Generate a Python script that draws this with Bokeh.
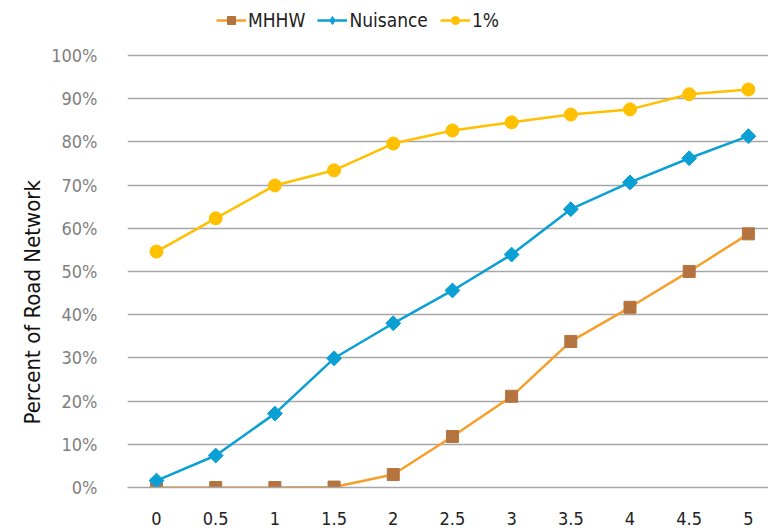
from math import pi
from bokeh.plotting import figure
from bokeh.models import (Legend, LegendItem, PrintfTickFormatter, FixedTicker,
                          Range1d, Title)
from bokeh.embed import file_html
from bokeh.resources import INLINE

# Sea level rise scenarios (x) and share of road network affected (%)
rise = [0, 0.5, 1, 1.5, 2, 2.5, 3, 3.5, 4, 4.5, 5]
rise_labels = ["0", "0.5", "1", "1.5", "2", "2.5", "3", "3.5", "4", "4.5", "5"]
mhhw = [0, 0, 0, 0.1, 3.0, 11.8, 21.1, 33.8, 41.7, 50.0, 58.7]
nuisance = [1.6, 7.4, 17.1, 29.9, 38.0, 45.6, 53.9, 64.4, 70.6, 76.2, 81.3]
one_pct = [54.6, 62.3, 69.9, 73.4, 79.6, 82.6, 84.5, 86.3, 87.5, 91.0, 92.1]
y_ticks = [0, 10, 20, 30, 40, 50, 60, 70, 80, 90, 100]

FONT = "'Liberation Sans Narrow', 'DejaVu Sans Condensed', 'Roboto Condensed', Roboto, sans-serif"

# headroom above 100% keeps the legend inside the frame
p = figure(width=768, height=529, output_backend="svg", toolbar_location=None,
           x_range=Range1d(-0.245, 5.17), y_range=Range1d(0, 112.7),
           min_border_left=127, min_border_right=0, min_border_top=0,
           min_border_bottom=42)
p.outline_line_color = None
p.background_fill_color = "white"

# grid
p.xgrid.grid_line_color = None
p.ygrid.ticker = FixedTicker(ticks=y_ticks)
p.ygrid.grid_line_color = "#A6A6A6"
p.ygrid.grid_line_width = 1.5

# axes
p.yaxis.ticker = FixedTicker(ticks=y_ticks)
p.yaxis.formatter = PrintfTickFormatter(format="%d%%")
p.yaxis.axis_line_color = None
p.yaxis.major_tick_line_color = None
p.yaxis.minor_tick_line_color = None
p.yaxis.major_label_standoff = 24
p.yaxis.major_label_text_font = FONT
p.yaxis.major_label_text_font_size = "18px"
p.yaxis.major_label_text_color = "#7F7F7F"

p.xaxis.ticker = FixedTicker(ticks=rise)
p.xaxis.major_label_overrides = {r: s for r, s in zip(rise, rise_labels)}
p.xaxis.axis_line_color = "#A6A6A6"
p.xaxis.axis_line_width = 1.5
p.xaxis.major_tick_line_color = None
p.xaxis.minor_tick_line_color = None
p.xaxis.major_label_standoff = 18
p.xaxis.major_label_text_font = FONT
p.xaxis.major_label_text_font_size = "18px"
p.xaxis.major_label_text_color = "#222222"

# y axis title, anchored above the bottom of the frame
p.add_layout(Title(text="Percent of Road Network", align="left", offset=63,
                   standoff=8, text_font=FONT, text_font_size="22px",
                   text_font_style="normal", text_color="#111111"), "left")

# series
r1l = p.line(rise, mhhw, line_color="#F6A02A", line_width=2.5)
r1m = p.scatter(rise, mhhw, marker="square", size=12, fill_color="#B5733F",
                line_color="#B5733F")
r2l = p.line(rise, nuisance, line_color="#0AA0D4", line_width=2.5)
r2m = p.scatter(rise, nuisance, marker="square", size=10.5, angle=pi / 4,
                fill_color="#0AA0D4", line_color="#0AA0D4")
r3l = p.line(rise, one_pct, line_color="#FFC000", line_width=2.5)
r3m = p.scatter(rise, one_pct, marker="circle", size=13, fill_color="#FFC000",
                line_color="#FFC000")

# diamond swatch for the legend, positioned off the visible ranges
r2key = p.scatter([-10], [-10], marker="diamond", size=15, fill_color="#0AA0D4",
                  line_color="#0AA0D4")

legend = Legend(items=[
    LegendItem(label="MHHW", renderers=[r1l, r1m]),
    LegendItem(label="Nuisance", renderers=[r2l, r2key]),
    LegendItem(label="1%", renderers=[r3l, r3m]),
], orientation="horizontal", location=(89, 456))
legend.label_text_font = FONT
legend.label_text_font_size = "19px"
legend.label_text_color = "#222222"
legend.glyph_width = 30
legend.glyph_height = 20
legend.label_standoff = 2
legend.spacing = 12
legend.padding = 4
legend.margin = 0
legend.border_line_color = None
legend.background_fill_alpha = 0
p.add_layout(legend, "center")

open("out.html", "w").write(file_html(p, INLINE))
